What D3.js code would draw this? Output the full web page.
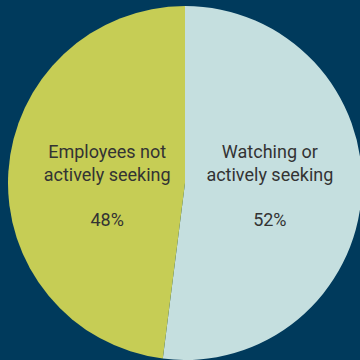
<!DOCTYPE html>
<html>
<head>
<meta charset="utf-8">
<script src="https://cdn.jsdelivr.net/npm/d3@7"></script>
<style>
  html, body { margin: 0; padding: 0; background: #003a5c; }
  svg { display: block; }
</style>
</head>
<body>
<svg id="chart" width="360" height="360"></svg>
<script>
// Share of employees by job-search status
const categories = ["Watching or actively seeking", "Employees not actively seeking"];
const labelLines = [["Watching or", "actively seeking"], ["Employees not", "actively seeking"]];
const values = [52, 48];
const colors = ["#c5dfdf", "#c6cd55"];

const width = 360, height = 360;
const cx = 185, cy = 183, radius = 177;

const svg = d3.select("#chart");
svg.append("rect").attr("width", width).attr("height", height).attr("fill", "#003a5c");

const g = svg.append("g").attr("transform", `translate(${cx},${cy})`);

const pie = d3.pie().sort(null).value(d => d.value);
const data = categories.map((c, i) => ({ name: c, value: values[i], lines: labelLines[i], color: colors[i] }));
const arcs = pie(data);

const arc = d3.arc().innerRadius(0).outerRadius(radius);
const labelArc = d3.arc().innerRadius(81.5).outerRadius(81.5);

g.selectAll("path.slice")
  .data(arcs)
  .join("path")
  .attr("class", "slice")
  .attr("d", arc)
  .attr("fill", d => d.data.color);

// Labels sit level with the pie centre, horizontally at the slice centroid
const lineH = 22.5;
const labels = g.selectAll("text.label")
  .data(arcs)
  .join("text")
  .attr("class", "label")
  .attr("transform", d => {
    const [x] = labelArc.centroid(d);
    return `translate(${x + 3.5},0)`;
  })
  .attr("text-anchor", "middle")
  .attr("font-family", "Roboto, sans-serif")
  .attr("font-size", 18)
  .attr("fill", "#333333");

labels.each(function(d) {
  const t = d3.select(this);
  const rows = [...d.data.lines, "", d.data.value + "%"];
  const startY = -25;
  rows.forEach((r, i) => {
    t.append("tspan").attr("x", 0).attr("y", startY + i * lineH).text(r);
  });
});
</script>
</body>
</html>
